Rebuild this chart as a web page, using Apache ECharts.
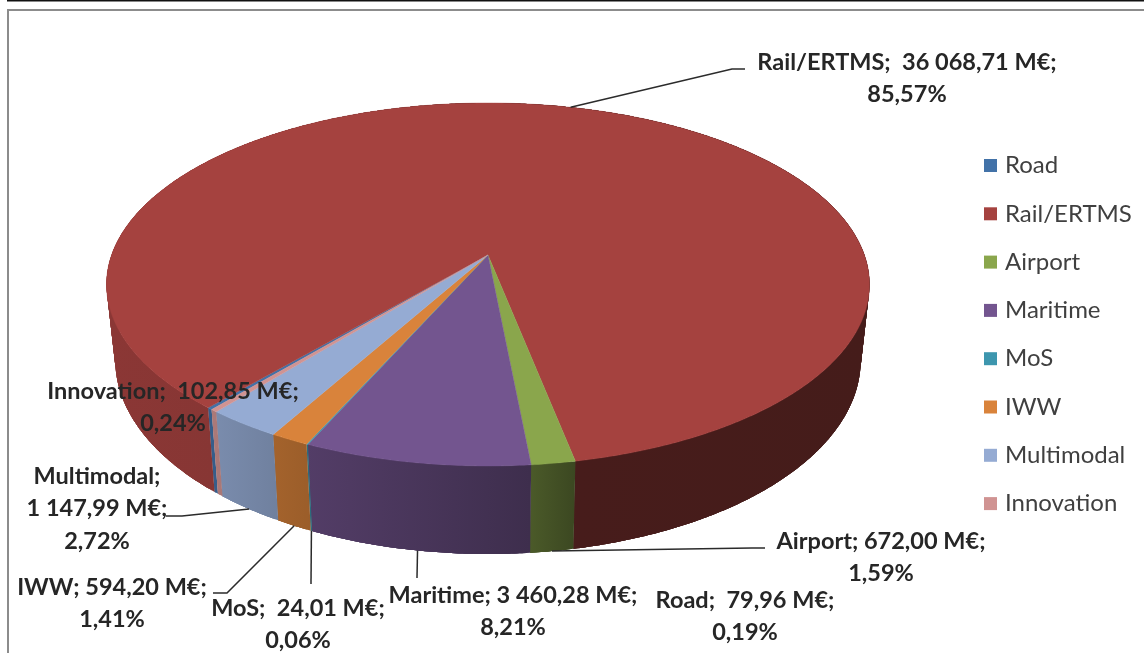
<!DOCTYPE html>
<html>
<head>
<meta charset="utf-8">
<style>html,body{margin:0;padding:0;background:#fff}#c{width:1144px;height:653px}</style>
<script src="https://cdn.jsdelivr.net/npm/echarts@6/dist/echarts.min.js"></script>
</head>
<body>
<div id="c"></div>
<script>
const categories = ['Road', 'Rail/ERTMS', 'Airport', 'Maritime', 'MoS', 'IWW', 'Multimodal', 'Innovation'];
const amounts = [79.96, 36068.71, 672.00, 3460.28, 24.01, 594.20, 1147.99, 102.85];
const colors = ['#4272a8', '#a5423f', '#8aa64c', '#73558f', '#3d96ae', '#d9833b', '#95abd3', '#d09392'];
const FONT = 'Lato, "Noto Sans", sans-serif';

// pie projection (perspective tilted disc); the lower rim sits slightly further from the viewer
const CX = 488, CY = 255, RX = 376.4, RY = 176.7, K = 0.1625, DEPTH = 73.7, START = 220, LOWER_SCALE = 0.977;

// label layout: centre x, first-line centre y, separator after the name, leader elbow + end
const labelLayout = [
  { x: 745, y: 600, sep: '  ' },
  { x: 907, y: 62, sep: '  ', leader: [[732, 69], [745, 69]] },
  { x: 881, y: 541, sep: ' ', leader: [[752, 548], [765, 548]] },
  { x: 513, y: 595, sep: ' ', leader: [[417, 578]] },
  { x: 298, y: 608, sep: '  ', leader: [[311, 584]] },
  { x: 112, y: 587, sep: ' ', leader: [[227, 593], [213, 593]] },
  { x: 97, y: 476, sep: '\n', leader: [[182, 516], [166, 516]] },
  { x: 173, y: 391, sep: '  ' }
];
// side wall shading stops across the pie width: [x, brightness]
const shade = [[107, .84], [215, .82], [306, .72], [530, .54], [576, .43], [870, .42]];

const total = amounts.reduce((a, b) => a + b, 0);
function fmt(v) {
  const p = v.toFixed(2).split('.');
  return p[0].replace(/\B(?=(\d{3})+$)/g, ' ') + ',' + p[1];
}
function project(deg, lower) {
  const r = deg * Math.PI / 180, u = Math.sin(r), v = -Math.cos(r), w = 1 - K * v;
  return [CX + (lower ? LOWER_SCALE : 1) * RX * u / w, CY + (RY * v + (lower ? DEPTH : 0)) / w];
}
function dim(hex, f) {
  const n = parseInt(hex.slice(1), 16);
  return 'rgb(' + [n >> 16 & 255, n >> 8 & 255, n & 255].map(c => Math.round(c * f)).join(',') + ')';
}
function arc(a0, a1, lower) {
  const n = Math.max(2, Math.ceil((a1 - a0) / 0.5)), pts = [];
  for (let i = 0; i <= n; i++) pts.push(project(a0 + (a1 - a0) * i / n, lower));
  return pts;
}
function renderSlice(i) {
  return function () {
    let a0 = START;
    for (let j = 0; j < i; j++) a0 += amounts[j] / total * 360;
    const a1 = a0 + amounts[i] / total * 360, mid = (a0 + a1) / 2;
    const c = colors[i];
    const x0 = shade[0][0], x1 = shade[shade.length - 1][0];
    const grad = new echarts.graphic.LinearGradient(x0, 0, x1, 0,
      shade.map(s => ({ offset: (s[0] - x0) / (x1 - x0), color: dim(c, s[1]) })), true);
    const children = [];
    // wall as overlapping strips so the silhouette joins both rims without seams
    const up = arc(a0, a1, false), low = arc(a0, a1, true);
    for (let k = 0; k < up.length - 1; k++) {
      const e = Math.min(up.length, k + 5);
      children.push({ type: 'polygon', z2: 1,
        shape: { points: up.slice(k, e).concat(low.slice(k, e).reverse()) },
        style: { fill: grad } });
    }
    children.push({ type: 'polygon', z2: 2, shape: { points: [[CX, CY]].concat(up) },
      style: { fill: c, stroke: c, lineWidth: 0.4 } });
    const L = labelLayout[i];
    const pct = (amounts[i] / total * 100).toFixed(2).replace('.', ',') + '%';
    children.push({ type: 'text', z2: 4, x: L.x, y: L.y - 16,
      style: { text: categories[i] + ';' + L.sep + fmt(amounts[i]) + ' M€;\n' + pct,
        font: '700 23.5px ' + FONT, fill: '#262626', align: 'center', verticalAlign: 'top', lineHeight: 32.5 } });
    if (L.leader) {
      const m = ((mid % 360) + 360) % 360, front = m > 90 && m < 270;
      const pts = [project(mid, front)].concat(L.leader);
      children.push({ type: 'polyline', z2: 3, shape: { points: pts },
        style: { fill: null, stroke: '#2b2b2b', lineWidth: 1.5 } });
    }
    return { type: 'group', children };
  };
}

const chart = echarts.init(document.getElementById('c'), null, { renderer: 'canvas' });
chart.setOption({
  animation: false,
  backgroundColor: '#ffffff',
  legend: {
    orient: 'vertical', left: 979, top: 148.5, icon: 'rect', itemWidth: 13, itemHeight: 13, itemGap: 24.3,
    selectedMode: false, data: categories,
    textStyle: { fontFamily: FONT, fontSize: 24, color: '#404040', padding: [0, 0, 0, 3] }
  },
  graphic: [
    { type: 'line', silent: true, shape: { x1: 7, y1: 0.5, x2: 1144, y2: 0.5 }, style: { stroke: '#111', lineWidth: 2 } },
    { type: 'polyline', silent: true, shape: { points: [[8, 653], [8, 10], [1144, 10]] }, style: { fill: null, stroke: '#8c8c8c', lineWidth: 2 } }
  ],
  series: categories.map((name, i) => ({
    type: 'custom', name, coordinateSystem: 'none', silent: true,
    itemStyle: { color: colors[i] },
    data: [[amounts[i]]], encode: { value: 0 },
    renderItem: renderSlice(i)
  }))
});
</script>
</body>
</html>
